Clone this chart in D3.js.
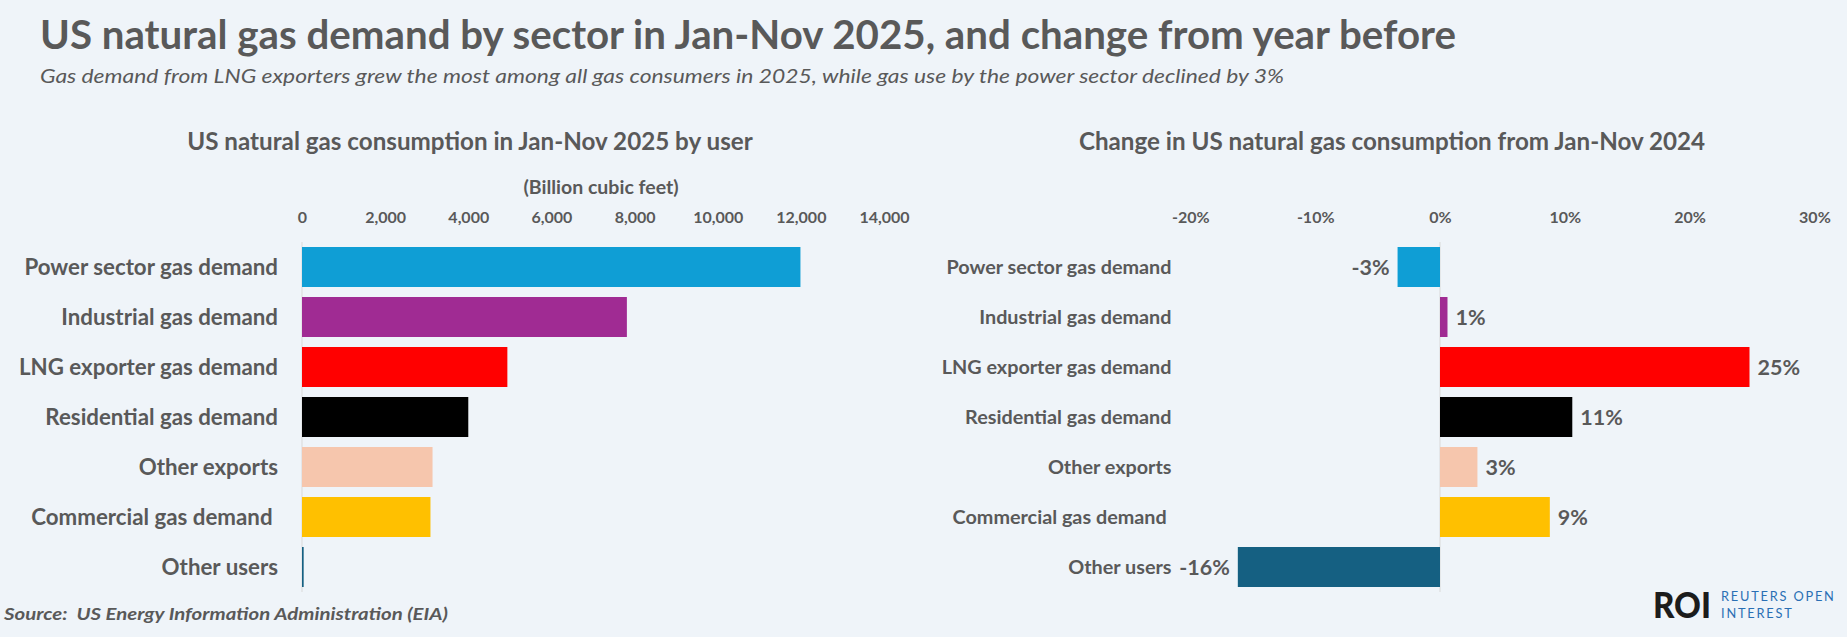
<!DOCTYPE html>
<html>
<head>
<meta charset="utf-8">
<script src="https://cdn.jsdelivr.net/npm/d3@7"></script>
<style>
  body { margin: 0; background: #eff4f9; }
  text { font-family: Lato, 'Liberation Sans', sans-serif; fill: #595959; white-space: pre; }
</style>
</head>
<body>
<div id="svg-container"></div>
<script>
// Data
const categories = [
  'Power sector gas demand',
  'Industrial gas demand',
  'LNG exporter gas demand',
  'Residential gas demand',
  'Other exports',
  'Commercial gas demand ',
  'Other users',
]
// Jan-Nov 2025 consumption, billion cubic feet
const consumption = [11990, 7815, 4940, 4000, 3140, 3090, 40]
// change from Jan-Nov 2024, percent
const changePct = [-3.4, 0.6, 24.8, 10.6, 3.0, 8.8, -16.2]
const barColors = ['#0f9ed5', '#a02b93', '#ff0000', '#000000', '#f6c6ad', '#ffc000', '#156082']
const consumptionTicks = [0, 2000, 4000, 6000, 8000, 10000, 12000, 14000]
const changeTicks = [-20, -10, 0, 10, 20, 30]

const width = 1847
const height = 637
const bgColor = '#eff4f9'
const textColor = '#595959'
const axisColor = '#d9d9d9'

const rows = categories.map((c, i) => ({
  category: c,
  value: consumption[i],
  change: changePct[i],
  color: barColors[i],
}))

const svg = d3
  .select('#svg-container')
  .append('svg')
  .attr('width', width)
  .attr('height', height)
  .attr('viewBox', `0 0 ${width} ${height}`)

svg.append('rect').attr('width', width).attr('height', height).attr('fill', bgColor)

// stretch/squeeze a text so it covers the same width as in the reference
const fitWidth = (sel, w) => sel.attr('textLength', w).attr('lengthAdjust', 'spacingAndGlyphs')

// headers
svg
  .append('text')
  .attr('x', 40)
  .attr('y', 49)
  .attr('font-size', 39.5)
  .attr('font-weight', 700)
  .text('US natural gas demand by sector in Jan-Nov 2025, and change from year before')
  .call(fitWidth, 1416)

svg
  .append('text')
  .attr('x', 40)
  .attr('y', 83)
  .attr('font-size', 19)
  .attr('font-style', 'italic')
  .text(
    'Gas demand from LNG exporters grew the most among all gas consumers in 2025, while gas use by the power sector declined by 3%',
  )
  .call(fitWidth, 1244)

// shared category scale
const yScale = d3
  .scaleBand()
  .domain(categories)
  .range([242, 592])
  .paddingInner(0.2)
  .paddingOuter(0.1)

// ---------- left panel: consumption ----------
const xLeft = d3.scaleLinear().domain([0, 14000]).range([302, 884])

svg
  .append('text')
  .attr('x', 470)
  .attr('y', 150)
  .attr('text-anchor', 'middle')
  .attr('font-size', 24.2)
  .attr('font-weight', 700)
  .text('US natural gas consumption in Jan-Nov 2025 by user')

svg
  .append('text')
  .attr('x', 601)
  .attr('y', 194)
  .attr('text-anchor', 'middle')
  .attr('font-size', 19.5)
  .attr('font-weight', 700)
  .text('(Billion cubic feet)')

const leftAxis = svg
  .append('g')
  .attr('transform', 'translate(0, 222.5)')
  .call(
    d3
      .axisTop(xLeft)
      .tickValues(consumptionTicks)
      .tickFormat(d3.format(','))
      .tickSize(0)
      .tickPadding(0),
  )
leftAxis.select('.domain').remove()
leftAxis
  .selectAll('text')
  .attr('fill', textColor)
  .attr('font-size', 16)
  .attr('font-weight', 700)
  .attr('font-family', null)

svg
  .append('line')
  .attr('x1', xLeft(0))
  .attr('x2', xLeft(0))
  .attr('y1', yScale.range()[0])
  .attr('y2', yScale.range()[1])
  .attr('stroke', axisColor)
  .attr('stroke-width', 1)

svg
  .append('g')
  .selectAll('rect')
  .data(rows)
  .join('rect')
  .attr('x', xLeft(0))
  .attr('y', d => yScale(d.category))
  .attr('width', d => xLeft(d.value) - xLeft(0))
  .attr('height', yScale.bandwidth())
  .attr('fill', d => d.color)

svg
  .append('g')
  .selectAll('text')
  .data(rows)
  .join('text')
  .attr('x', 278)
  .attr('y', d => yScale(d.category) + yScale.bandwidth() / 2)
  .attr('dy', '0.36em')
  .attr('text-anchor', 'end')
  .attr('font-size', 22.3)
  .attr('font-weight', 700)
  .text(d => d.category)

// ---------- right panel: change ----------
const xRight = d3.scaleLinear().domain([-20, 30]).range([1190.4, 1814.4])

svg
  .append('text')
  .attr('x', 1392)
  .attr('y', 150)
  .attr('text-anchor', 'middle')
  .attr('font-size', 24.2)
  .attr('font-weight', 700)
  .text('Change in US natural gas consumption from Jan-Nov 2024')

const rightAxis = svg
  .append('g')
  .attr('transform', 'translate(0, 222.5)')
  .call(
    d3
      .axisTop(xRight)
      .tickValues(changeTicks)
      .tickFormat(d => `${d}%`)
      .tickSize(0)
      .tickPadding(0),
  )
rightAxis.select('.domain').remove()
rightAxis
  .selectAll('text')
  .attr('fill', textColor)
  .attr('font-size', 16)
  .attr('font-weight', 700)
  .attr('font-family', null)

svg
  .append('line')
  .attr('x1', xRight(0))
  .attr('x2', xRight(0))
  .attr('y1', yScale.range()[0])
  .attr('y2', yScale.range()[1])
  .attr('stroke', axisColor)
  .attr('stroke-width', 1)

svg
  .append('g')
  .selectAll('rect')
  .data(rows)
  .join('rect')
  .attr('x', d => xRight(Math.min(0, d.change)))
  .attr('y', d => yScale(d.category))
  .attr('width', d => Math.abs(xRight(d.change) - xRight(0)))
  .attr('height', yScale.bandwidth())
  .attr('fill', d => d.color)

svg
  .append('g')
  .selectAll('text')
  .data(rows)
  .join('text')
  .attr('x', 1171.5)
  .attr('y', d => yScale(d.category) + yScale.bandwidth() / 2)
  .attr('dy', '0.36em')
  .attr('text-anchor', 'end')
  .attr('font-size', 19.8)
  .attr('font-weight', 700)
  .text(d => d.category)

// plain hyphen for negatives, as in the original
const pct = v => `${Math.round(v)}%`
svg
  .append('g')
  .selectAll('text')
  .data(rows)
  .join('text')
  .attr('x', d => (d.change < 0 ? xRight(d.change) - 8 : xRight(d.change) + 8))
  .attr('y', d => yScale(d.category) + yScale.bandwidth() / 2)
  .attr('dy', '0.36em')
  .attr('text-anchor', d => (d.change < 0 ? 'end' : 'start'))
  .attr('font-size', 21.5)
  .attr('font-weight', 700)
  .text(d => pct(d.change))

// ---------- footer ----------
svg
  .append('text')
  .attr('x', 4)
  .attr('y', 620)
  .attr('font-size', 17)
  .attr('font-weight', 700)
  .attr('font-style', 'italic')
  .text('Source:  US Energy Information Administration (EIA)')
  .call(fitWidth, 444)

svg
  .append('text')
  .attr('x', 1653)
  .attr('y', 617.5)
  .attr('font-size', 36)
  .attr('font-weight', 900)
  .style('fill', '#1c1c1c')
  .text('ROI')
  .call(fitWidth, 58)

const roiBlue = '#2a6fb4'
;['REUTERS OPEN', 'INTEREST'].forEach((t, i) => {
  svg
    .append('text')
    .attr('x', 1721)
    .attr('y', 600.5 + i * 17)
    .attr('font-size', 12.8)
    .attr('letter-spacing', 1.8)
    .style('fill', roiBlue)
    .text(t)
})
</script>
</body>
</html>
